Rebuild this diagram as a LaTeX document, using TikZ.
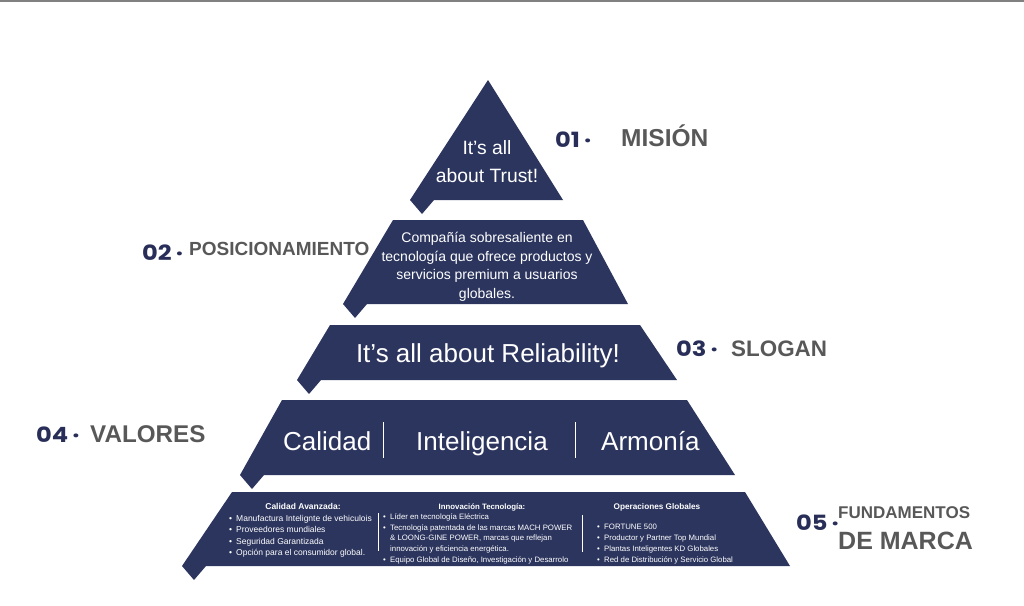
\documentclass[tikz,border=0pt]{standalone}
\usepackage{fontspec}
\setmainfont{Liberation Sans}
\newfontfamily\numfont{Poppins}
\definecolor{navy}{RGB}{44,53,94}
\definecolor{numblue}{RGB}{40,46,88}
\definecolor{labelgray}{RGB}{88,88,88}
\newcommand{\bul}{\makebox[7pt][l]{\textbullet}}
\newcommand{\ind}{\hspace*{7pt}}

\begin{document}
\begin{tikzpicture}[x=1pt,y=-1pt,
  tier/.style={fill=navy},
  sepline/.style={white,line width=0.8pt},
  num/.style={anchor=base west,inner sep=0,text=numblue,xscale=1.15,
    font=\numfont\bfseries\fontsize{21}{21}\selectfont},
  lbl/.style={anchor=base west,inner sep=0,text=labelgray},
  inside/.style={text=white,inner sep=0,align=center},
  blist/.style={text=white,inner sep=0,align=left,anchor=north west}]

\useasboundingbox (0,0) rectangle (1024,605);
\draw[gray,line width=1.5pt] (0,0.75) -- (1024,0.75);

% pyramid tiers, each with its little fold at the lower left
\fill[tier] (488,80) -- (563,200) -- (434,200) -- (422,214) -- (410,200) -- cycle;
\fill[tier] (393,220) -- (583,220) -- (628,304) -- (367,304) -- (355,318) -- (343,304) -- cycle;
\fill[tier] (330,325) -- (640,325) -- (677,380) -- (321,380) -- (309,394) -- (297,380) -- cycle;
\fill[tier] (282,400) -- (687,400) -- (735,475) -- (264,475) -- (252,489) -- (240,475) -- cycle;
\fill[tier] (232,492) -- (745,492) -- (790,566) -- (206,566) -- (194,580) -- (182,566) -- cycle;

\node[inside,font=\fontsize{19.3}{28}\selectfont] (trust) at (487,162) {It’s all\\about Trust!};
\node[inside,font=\fontsize{14}{18.5}\selectfont] (posit) at (487,267)
  {Compañía sobresaliente en\\tecnología que ofrece productos y\\servicios premium a usuarios\\globales.};
\node[inside,anchor=base,font=\fontsize{26}{26}\selectfont] (reliab) at (488,362) {It’s all about Reliability!};

\node[inside,anchor=base west,font=\fontsize{26}{26}\selectfont] (val1) at (283,450) {Calidad};
\node[inside,anchor=base west,font=\fontsize{26}{26}\selectfont] (val2) at (416,450) {Inteligencia};
\node[inside,anchor=base west,font=\fontsize{26}{26}\selectfont] (val3) at (601,450) {Armonía};
\draw[sepline] (383,422) -- (383,458);
\draw[sepline] (575,422) -- (575,458);

% brand foundations
\node[inside,anchor=base,font=\bfseries\fontsize{8.5}{8.5}\selectfont] (head1) at (303,509) {Calidad Avanzada:};
\node[inside,anchor=base,font=\bfseries\fontsize{7.8}{7.8}\selectfont] (head2) at (482,509) {Innovación Tecnología:};
\node[inside,anchor=base,font=\bfseries\fontsize{8.2}{8.2}\selectfont] (head3) at (657,509) {Operaciones Globales};

\node[blist,font=\fontsize{8.5}{11.5}\selectfont] (list1) at (229,515)
  {\bul Manufactura Intelignte de vehiculois\\\bul Proveedores mundiales\\\bul Seguridad Garantizada\\\bul Opción para el consumidor global.};
\node[blist,font=\fontsize{7.8}{10.7}\selectfont] (list2) at (383,513.5)
  {\bul Líder en tecnología Eléctrica\\\bul Tecnología patentada de las marcas MACH POWER\\\ind\& LOONG-GINE POWER, marcas que reflejan\\\ind innovación y eficiencia energética.\\\bul Equipo Global de Diseño, Investigación y Desarrolo};
\node[blist,font=\fontsize{7.8}{11}\selectfont] (list3) at (597,523.5)
  {\bul FORTUNE 500\\\bul Productor y Partner Top Mundial\\\bul Plantas Inteligentes KD Globales\\\bul Red de Distribución y Servicio Global};
\draw[sepline] (378,513) -- (378,551);
\draw[sepline] (582,515) -- (582,552);

% numbers and titles
\node[num] (num1) at (555,147) {01\,·};
\node[num] (num2) at (142,260) {02\,·};
\node[num] (num3) at (676,356) {03\,·};
\node[num] (num4) at (36,442) {04\,·};
\node[num] (num5) at (796,530) {05\,·};

\node[lbl,font=\bfseries\fontsize{24.5}{24.5}\selectfont] (mision) at (621,146) {MISIÓN};
\node[lbl,font=\bfseries\fontsize{19}{19}\selectfont] (posic) at (189,255) {POSICIONAMIENTO};
\node[lbl,font=\bfseries\fontsize{22.4}{22.4}\selectfont] (slogan) at (731,356) {SLOGAN};
\node[lbl,font=\bfseries\fontsize{24.2}{24.2}\selectfont] (valores) at (90,442) {VALORES};
\node[lbl,font=\bfseries\fontsize{17}{17}\selectfont] (fund1) at (838,518) {FUNDAMENTOS};
\node[lbl,font=\bfseries\fontsize{25}{25}\selectfont] (fund2) at (838,549) {DE MARCA};

\end{tikzpicture}
\end{document}
